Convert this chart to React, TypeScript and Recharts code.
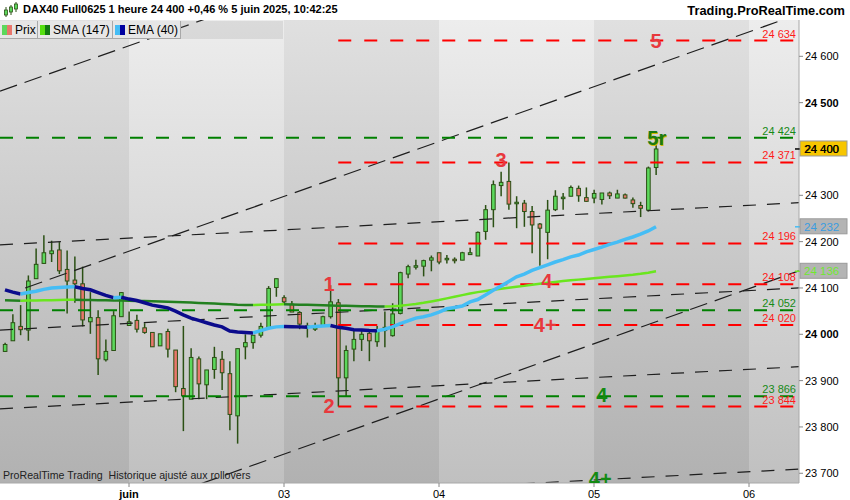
import React from "react";
import {
  ComposedChart,
  Bar,
  Line,
  XAxis,
  YAxis,
  ReferenceLine,
  ReferenceArea,
  ReferenceDot,
} from "recharts";

// hourly candles, 30 May -> 5 June 10:00
const opens = [
  23963, 23986, 24017, 24009, 24120, 24153, 24174, 24182, 24140, 24117, 24109, 24027, 24036, 23945, 23965, 24038,
  24019, 24030, 24014, 24004, 23975, 24006, 23966, 23883, 23860, 23947, 23891, 23924, 23946, 23915, 23824, 23973,
  23982, 23998, 24014, 24101, 24079, 24065, 24047, 24018, 24011, 24019, 24038, 24068, 23906, 23968, 23989, 24002,
  23984, 24008, 23997, 24045, 24130, 24145, 24147, 24160, 24176, 24162, 24162, 24160, 24172, 24169, 24222, 24269,
  24321, 24330, 24284, 24283, 24265, 24238, 24220, 24269, 24296, 24298, 24315, 24295, 24294, 24291, 24305, 24294,
  24301, 24290, 24278, 24268, 24360,
];
const highs = [
  23982, 24043, 24063, 24127, 24185, 24214, 24202, 24199, 24181, 24168, 24146, 24091, 24052, 23989, 24050, 24091,
  24049, 24042, 24024, 24004, 24001, 24012, 23966, 24018, 23970, 23952, 23923, 23973, 23964, 23942, 23969, 24000,
  23998, 24025, 24104, 24120, 24084, 24072, 24050, 24025, 24025, 24040, 24106, 24076, 23976, 24011, 24011, 24005,
  24018, 24049, 24067, 24135, 24150, 24161, 24161, 24170, 24176, 24171, 24166, 24178, 24187, 24222, 24279, 24332,
  24351, 24371, 24298, 24290, 24277, 24240, 24290, 24311, 24305, 24321, 24321, 24317, 24312, 24305, 24308, 24312,
  24304, 24295, 24286, 24362, 24418,
];
const lows = [
  23962, 23986, 23998, 23986, 24120, 24152, 24156, 24130, 24045, 24068, 24017, 24001, 23912, 23941, 23965, 24038,
  24019, 24004, 24001, 23973, 23975, 23950, 23875, 23791, 23860, 23860, 23860, 23904, 23880, 23793, 23764, 23946,
  23969, 23993, 24011, 24081, 24065, 24048, 24011, 23993, 24007, 24017, 24034, 23844, 23866, 23942, 23964, 23942,
  23973, 23972, 23995, 24043, 24121, 24140, 24125, 24136, 24151, 24153, 24153, 24160, 24172, 24169, 24204, 24231,
  24298, 24269, 24229, 24232, 24175, 24148, 24162, 24266, 24269, 24298, 24286, 24286, 24283, 24280, 24292, 24294,
  24293, 24273, 24253, 24265, 24344,
];
const closes = [
  23978, 24025, 24010, 24115, 24151, 24176, 24180, 24137, 24115, 24109, 24031, 24036, 23947, 23963, 24040, 24090,
  24027, 24011, 24004, 23973, 24001, 23968, 23887, 23867, 23950, 23893, 23923, 23950, 23917, 23827, 23969, 23982,
  23998, 24017, 24099, 24120, 24070, 24048, 24022, 24017, 24018, 24038, 24070, 23906, 23965, 23989, 24000, 23986,
  24007, 24015, 24044, 24133, 24146, 24148, 24159, 24165, 24156, 24164, 24160, 24176, 24176, 24220, 24269, 24323,
  24328, 24281, 24285, 24265, 24236, 24229, 24268, 24298, 24296, 24317, 24299, 24287, 24304, 24305, 24299, 24303,
  24294, 24282, 24272, 24359, 24400,
];

const ema40 = [
  24096, 24091, 24087, 24090, 24093, 24097, 24100, 24101, 24102, 24102.5, 24099, 24096, 24090, 24084, 24079, 24080,
  24076, 24073, 24068, 24063, 24060, 24057, 24050, 24042, 24035, 24030, 24025, 24020, 24016, 24007, 24005, 24004,
  24003, 24008, 24013, 24016, 24017, 24016.5, 24016, 24015, 24017, 24018, 24019, 24015, 24013, 24010, 24009, 24008,
  24007.5, 24011, 24016, 24023, 24029, 24035, 24038, 24042, 24048, 24055, 24058, 24061, 24070, 24075, 24085, 24095,
  24104, 24114, 24124, 24130, 24138, 24144, 24150, 24156, 24161, 24167, 24171, 24178, 24183, 24188, 24194, 24199,
  24205, 24210, 24216, 24223, 24232,
];
const sma147 = [
  24073.5, 24073, 24072.5, 24072.8, 24073.1, 24073.4, 24073.7, 24074, 24074.3, 24074.5, 24074.2, 24073.9, 24073.6,
  24073.3, 24073, 24072.7, 24072.4, 24072, 24071.6, 24071.2, 24070.7, 24070.2, 24069.6, 24069, 24068.4, 24067.8,
  24067.2, 24066.4, 24065.5, 24064.6, 24063.8, 24063.4, 24063.2, 24063.5, 24064, 24064.5, 24064.8, 24064.5, 24064,
  24063.5, 24063, 24062.6, 24062.2, 24061.8, 24061.4, 24061, 24060.7, 24060.4, 24060.2, 24060, 24060.3, 24061.5,
  24063.5, 24065.5, 24068, 24071, 24074, 24077.5, 24081, 24084.5, 24088, 24091, 24093.5, 24096, 24098.5, 24100.5,
  24102.5, 24104.5, 24107, 24109, 24111, 24113, 24115, 24116.5, 24118, 24119.5, 24121, 24122.5, 24124, 24125.5,
  24127, 24128.5, 24130.5, 24133, 24136,
];

const dayTicks = [16, 36, 56, 76, 96];
const dayLabels = ["juin", "03", "04", "05", "06"];
const priceTicks = [23700, 23800, 23900, 24000, 24100, 24200, 24300, 24400, 24500, 24600];

const redLevels = [24634, 24371, 24196, 24108, 24020, 23844];
const greenLevels = [24424, 24052, 23866];
const redStart = 43;

// hand drawn channels [x1, price1, x2, price2]
const steepLines = [
  [-0.645, 24525, 32.9, 24722],
  [2.6, 24100, 102.45, 24691],
  [25.2, 23677, 102.45, 24137],
];
const flatLines = [
  [-0.645, 24193, 102.45, 24284],
  [-0.645, 24009, 102.45, 24100],
  [-0.645, 23839, 102.45, 23930],
  [57.4, 23669, 102.45, 23709],
];

const markers = [
  { text: "1", x: 41.8, y: 24108, color: "#e8383d" },
  { text: "2", x: 41.8, y: 23845, color: "#e8383d" },
  { text: "3", x: 64, y: 24376, color: "#e8383d" },
  { text: "4", x: 69.9, y: 24115, color: "#e8383d" },
  { text: "4+", x: 69.7, y: 24020, color: "#e8383d" },
  { text: "5", x: 84, y: 24633, color: "#e8383d" },
  { text: "5r", x: 84.1, y: 24424, color: "#1c7a12" },
  { text: "4", x: 77, y: 23869, color: "#138a13" },
  { text: "4+", x: 76.8, y: 23688, color: "#138a13" },
];

const X_MIN = -0.645;
const X_MAX = 102.45;
const Y_MIN = 23679;
const Y_MAX = 24678.4;

const fmt = (v: number) => {
  const s = String(Math.round(v));
  return s.slice(0, s.length - 3) + " " + s.slice(-3);
};

// split a moving average into rising / falling runs
function runs(vals: number[]) {
  const out: { start: number; end: number; up: boolean }[] = [];
  for (let k = 1; k < vals.length; k++) {
    const up = vals[k] >= vals[k - 1];
    const last = out[out.length - 1];
    if (last && last.up === up) last.end = k;
    else out.push({ start: k - 1, end: k, up });
  }
  return out;
}
const emaRuns = runs(ema40);
const smaRuns = runs(sma147);

const data = opens.map((o, i) => {
  const row: any = {
    i,
    open: o,
    high: highs[i],
    low: lows[i],
    close: closes[i],
    range: [lows[i], highs[i]],
  };
  emaRuns.forEach((r, k) => {
    row["ema" + k] = i >= r.start && i <= r.end ? ema40[i] : null;
  });
  smaRuns.forEach((r, k) => {
    row["sma" + k] = i >= r.start && i <= r.end ? sma147[i] : null;
  });
  return row;
});

const Candle = (props: any) => {
  const { x, y, width, height, payload } = props;
  const { open, close, high, low } = payload;
  const cx = x + width / 2;
  const span = high - low;
  const k = span > 0 ? height / span : 0;
  const yOf = (v: number) => y + (high - v) * k;
  const top = yOf(Math.max(open, close));
  const bot = yOf(Math.min(open, close));
  return (
    <g>
      <line x1={cx} x2={cx} y1={y} y2={y + height} stroke="#2b5014" strokeWidth={1.5} />
      <rect
        x={cx - 1.8}
        y={top}
        width={3.6}
        height={Math.max(bot - top, 1.5)}
        fill={close >= open ? "#5cd85c" : "#e8766c"}
        stroke="#2b5014"
        strokeWidth={1}
      />
    </g>
  );
};

const PriceTick = (props: any) => {
  const { x, y, payload } = props;
  return (
    <text
      x={x}
      y={y}
      dy={4}
      fontSize={11}
      fontFamily="Arial, Liberation Sans, sans-serif"
      fontWeight={payload.value % 500 === 0 ? "bold" : "normal"}
      fill="#000"
    >
      {fmt(payload.value)}
    </text>
  );
};

const DayTick = (props: any) => {
  const { x, y, payload } = props;
  const idx = dayTicks.indexOf(payload.value);
  return (
    <text
      x={x}
      y={y}
      dy={9}
      textAnchor="middle"
      fontSize={11}
      fontFamily="Arial, Liberation Sans, sans-serif"
      fontWeight={idx === 0 ? "bold" : "normal"}
      fill="#000"
    >
      {dayLabels[idx]}
    </text>
  );
};

const valueBox = (text: string, bg: string, color: string, tick: string) => (p: any) => (
  <g>
    <line x1={p.cx - 4} x2={p.cx + 2} y1={p.cy} y2={p.cy} stroke={tick} strokeWidth={1.5} />
    <rect x={p.cx + 1} y={p.cy - 8} width={47} height={15} fill={bg} stroke="#9a9a9a" />
    <text x={p.cx + 5} y={p.cy + 4} fontSize={11.5} fontFamily="Arial, Liberation Sans, sans-serif" fill={color}>
      {text}
    </text>
  </g>
);

const bands = [
  [X_MIN, 16, "url(#bandDark)"],
  [16, 36, "url(#bandLight)"],
  [36, 56, "url(#bandDark)"],
  [56, 76, "url(#bandLight)"],
  [76, 96, "url(#bandDark)"],
  [96, X_MAX, "url(#bandLight)"],
];

export default function App() {
  const font = "Arial, 'Liberation Sans', sans-serif";
  return (
    <div style={{ position: "absolute", left: 0, top: 0, width: 850, height: 500, background: "#fff", fontFamily: font }}>
      <ComposedChart width={850} height={500} data={data} margin={{ top: 20, right: 0, bottom: 0, left: 0 }}>
        <defs>
          <linearGradient id="bandLight" x1="0" y1="0" x2="0" y2="1">
            <stop offset="0%" stopColor="#ededed" />
            <stop offset="100%" stopColor="#c0c0c0" />
          </linearGradient>
          <linearGradient id="bandDark" x1="0" y1="0" x2="0" y2="1">
            <stop offset="0%" stopColor="#e0e0e0" />
            <stop offset="100%" stopColor="#b1b1b1" />
          </linearGradient>
          <clipPath id="markClip">
            <rect x={0} y={20} width={799} height={463} />
          </clipPath>
        </defs>
        <XAxis
          dataKey="i"
          type="number"
          domain={[X_MIN, X_MAX]}
          allowDataOverflow
          ticks={dayTicks}
          tick={<DayTick />}
          tickSize={4}
          tickLine={{ stroke: "#888" }}
          axisLine={{ stroke: "#a8a8a8" }}
          height={17}
          interval={0}
        />
        <YAxis
          orientation="right"
          type="number"
          domain={[Y_MIN, Y_MAX]}
          allowDataOverflow
          ticks={priceTicks}
          tick={<PriceTick />}
          tickSize={4}
          tickLine={{ stroke: "#888" }}
          axisLine={{ stroke: "#a8a8a8" }}
          width={51}
          interval={0}
        />
        {bands.map(([a, b, f], k) => (
          <ReferenceArea key={"b" + k} x1={a as number} x2={b as number} fill={f as string} fillOpacity={1} stroke="none" ifOverflow="hidden" />
        ))}
        {steepLines.map((l, k) => (
          <ReferenceLine
            key={"s" + k}
            segment={[{ x: l[0], y: l[1] }, { x: l[2], y: l[3] }]}
            stroke="#1e1e1e"
            strokeWidth={1.2}
            strokeDasharray="18 8"
            ifOverflow="hidden"
          />
        ))}
        {flatLines.map((l, k) => (
          <ReferenceLine
            key={"f" + k}
            segment={[{ x: l[0], y: l[1] }, { x: l[2], y: l[3] }]}
            stroke="#1e1e1e"
            strokeWidth={1.2}
            strokeDasharray="13 11"
            ifOverflow="hidden"
          />
        ))}
        {greenLevels.map((v) => (
          <ReferenceLine
            key={"g" + v}
            segment={[{ x: X_MIN, y: v }, { x: X_MAX, y: v }]}
            stroke="#008000"
            strokeWidth={2}
            strokeDasharray="13 13"
            label={{ value: fmt(v), position: "insideBottomRight", offset: 3, fill: "#178a17", fontSize: 11, fontFamily: font }}
          />
        ))}
        {redLevels.map((v) => (
          <ReferenceLine
            key={"r" + v}
            segment={[{ x: redStart, y: v }, { x: X_MAX, y: v }]}
            stroke="#ff0000"
            strokeWidth={2}
            strokeDasharray="13 13"
            label={{ value: fmt(v), position: "insideBottomRight", offset: 3, fill: "#ff1a1a", fontSize: 11, fontFamily: font }}
          />
        ))}
        {smaRuns.map((r, k) => (
          <Line
            key={"sma" + k}
            dataKey={"sma" + k}
            stroke={r.up ? "#6ae61e" : "#22801f"}
            strokeWidth={2.5}
            dot={false}
            isAnimationActive={false}
            connectNulls={false}
          />
        ))}
        {emaRuns.map((r, k) => (
          <Line
            key={"ema" + k}
            dataKey={"ema" + k}
            stroke={r.up ? "#45bdf5" : "#0b0b8c"}
            strokeWidth={3.5}
            dot={false}
            isAnimationActive={false}
            connectNulls={false}
          />
        ))}
        <Bar dataKey="range" barSize={6} shape={<Candle />} isAnimationActive={false} />
        {markers.map((m, k) => (
          <ReferenceDot
            key={"m" + k}
            x={m.x}
            y={m.y}
            r={0}
            ifOverflow="visible"
            shape={(p: any) => (
              <g clipPath="url(#markClip)">
                {m.text === "5r" && (
                  <text x={p.cx + 1} y={p.cy + 1} textAnchor="middle" dominantBaseline="central" fontSize={20} fontWeight="bold" fontFamily={font} fill="#d2b800">
                    {m.text}
                  </text>
                )}
                <text x={p.cx} y={p.cy} textAnchor="middle" dominantBaseline="central" fontSize={20} fontWeight="bold" fontFamily={font} fill={m.color}>
                  {m.text}
                </text>
              </g>
            )}
          />
        ))}
        <ReferenceDot x={X_MAX} y={24400} r={0} ifOverflow="visible" shape={valueBox("24 400", "#f7c600", "#000", "#000")} />
        <ReferenceDot x={X_MAX} y={24232} r={0} ifOverflow="visible" shape={valueBox("24 232", "#b4b4b4", "#3a9de0", "#45bdf5")} />
        <ReferenceDot x={X_MAX} y={24136} r={0} ifOverflow="visible" shape={valueBox("24 136", "#b4b4b4", "#70e830", "#6ae61e")} />
      </ComposedChart>

      {/* header */}
      <div style={{ position: "absolute", left: 0, top: 0, width: 850, height: 20, background: "#fff" }} />
      <svg style={{ position: "absolute", left: 3, top: 2 }} width={16} height={16}>
        <line x1={3} x2={3} y1={5} y2={15} stroke="#2b5014" />
        <rect x={1.5} y={8} width={3} height={5} fill="#5cd85c" stroke="#2b5014" strokeWidth={0.8} />
        <line x1={8} x2={8} y1={3} y2={13} stroke="#2b5014" />
        <rect x={6.5} y={5} width={3} height={5} fill="#5cd85c" stroke="#2b5014" strokeWidth={0.8} />
        <line x1={13} x2={13} y1={0} y2={10} stroke="#2b5014" />
        <rect x={11.5} y={2} width={3} height={5} fill="#5cd85c" stroke="#2b5014" strokeWidth={0.8} />
      </svg>
      <div style={{ position: "absolute", left: 23, top: 3, fontSize: 11, fontWeight: "bold", color: "#000", whiteSpace: "nowrap" }}>
        DAX40 Full0625 1 heure 24 400 +0,46 % 5 juin 2025, 10:42:25
      </div>
      <div style={{ position: "absolute", right: 5, top: 3, fontSize: 12.8, fontWeight: "bold", color: "#000", whiteSpace: "nowrap" }}>
        Trading.ProRealTime.com
      </div>

      {/* legend strip */}
      <div style={{ position: "absolute", left: 0, top: 21, width: 283, height: 18, background: "rgba(120,120,120,0.16)" }} />
      {[
        { l: 0, w: 38, t: "Prix", c1: "#5cd85c", c2: "#e8766c" },
        { l: 38, w: 75, t: "SMA (147)", c1: "#55e010", c2: "#117a11" },
        { l: 113, w: 68, t: "EMA (40)", c1: "#45bdf5", c2: "#0000a0" },
      ].map((b) => (
        <div
          key={b.t}
          style={{
            position: "absolute",
            left: b.l,
            top: 21,
            width: b.w - 1,
            height: 17,
            background: "#e6e6e6",
            borderRight: "1px solid #a8a8a8",
            borderBottom: "1px solid #a8a8a8",
            fontSize: 12,
            color: "#000",
            whiteSpace: "nowrap",
          }}
        >
          <span style={{ position: "absolute", left: 2, top: 4, width: 5, height: 10, background: b.c1 }} />
          <span style={{ position: "absolute", left: 7, top: 4, width: 5, height: 10, background: b.c2 }} />
          <span style={{ position: "absolute", left: 15, top: 2 }}>{b.t}</span>
        </div>
      ))}

      <div style={{ position: "absolute", left: 3, top: 469, fontSize: 10.6, color: "#222", whiteSpace: "pre" }}>
        {"ProRealTime Trading  Historique ajusté aux rollovers"}
      </div>
    </div>
  );
}
